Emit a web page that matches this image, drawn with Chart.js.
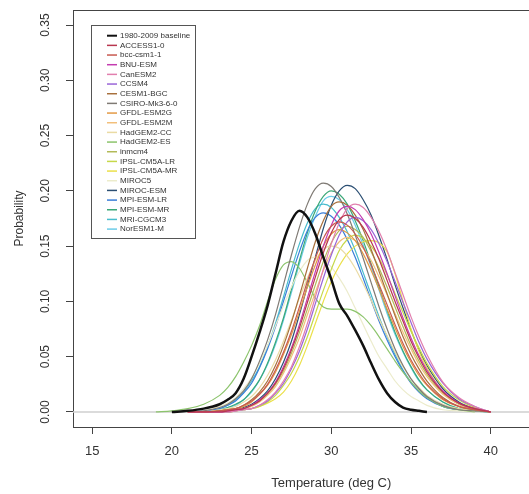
<!DOCTYPE html>
<html>
<head>
<meta charset="utf-8">
<script src="https://cdn.jsdelivr.net/npm/chart.js@4.4.1/dist/chart.umd.min.js"></script>
<style>
  html, body { margin: 0; padding: 0; background: #fff; overflow: hidden; }
  #wrap { width: 529px; height: 494px; }
</style>
</head>
<body>
<div id="wrap"><canvas id="chart" width="529" height="494"></canvas></div>
<script>
var n = null;

// temperature grid (deg C) shared by every curve
var temps = [19, 20, 21, 22, 23, 23.5, 24, 24.5, 25, 25.5, 26, 26.5, 27, 27.5, 28, 28.5, 29, 29.5,
             30, 30.5, 31, 31.5, 32, 32.5, 33, 33.5, 34, 34.5, 35, 35.5, 36, 37, 38, 39, 40, 41];
var xTicks = [15, 20, 25, 30, 35, 40];
var yTicks = [0, 0.05, 0.10, 0.15, 0.20, 0.25, 0.30, 0.35];

// probability density
var baseline = [n, 0, .001, .003, .007, .011, .017, .030, .050, .072, .096, .125, .154, .173, .182, .176, .161, .140, .120, .098, .087, .074, .060, .044, .029, .017, .009, .004, .002, .001, 0, n, n, n, n, n];
var access10 = [n, n, 0, 0, 0, .001, .002, .003, .006, .010, .017, .026, .039, .056, .076, .099, .122, .144, .162, .174, .178, .175, .167, .154, .138, .119, .100, .082, .064, .049, .036, .018, .008, .003, 0, n];
var bccCsm11 = [n, n, 0, 0, .001, .002, .003, .006, .010, .016, .025, .038, .054, .073, .095, .118, .139, .157, .168, .172, .169, .161, .149, .133, .115, .097, .079, .062, .047, .035, .025, .012, .005, .002, 0, n];
var bnuEsm = [n, n, 0, 0, 0, .001, .002, .003, .006, .011, .017, .027, .041, .058, .079, .103, .127, .150, .169, .182, .186, .183, .174, .161, .144, .125, .105, .085, .067, .051, .038, .019, .008, .003, 0, n];
var canEsm2 = [n, n, 0, 0, 0, 0, .001, .002, .003, .006, .011, .018, .028, .041, .059, .080, .104, .129, .152, .171, .184, .188, .185, .176, .163, .146, .126, .106, .086, .068, .052, .027, .013, .005, 0, n];
var ccsm4 = [n, n, 0, 0, 0, 0, .001, .002, .003, .006, .010, .017, .026, .039, .055, .075, .098, .121, .142, .160, .172, .176, .173, .165, .152, .136, .118, .099, .081, .063, .048, .026, .012, .005, 0, n];
var cesm1Bgc = [n, n, 0, 0, .001, .002, .003, .006, .011, .018, .028, .042, .060, .081, .105, .130, .154, .173, .186, .190, .187, .178, .165, .147, .127, .107, .087, .068, .052, .039, .028, .013, .005, .002, 0, n];
var csiroMk360 = [n, n, 0, .001, .004, .007, .012, .019, .030, .046, .065, .088, .115, .142, .167, .188, .202, .207, .204, .194, .179, .160, .139, .117, .095, .075, .057, .042, .030, .021, .014, .006, .002, .001, 0, n];
var gfdlEsm2g = [n, n, 0, 0, .001, .002, .003, .005, .009, .016, .024, .036, .052, .070, .091, .113, .133, .150, .161, .165, .162, .155, .143, .128, .111, .093, .076, .059, .045, .033, .024, .011, .005, .002, 0, n];
var gfdlEsm2m = [n, n, 0, 0, 0, .001, .002, .003, .005, .009, .015, .023, .035, .050, .067, .088, .108, .128, .144, .154, .158, .155, .148, .137, .122, .106, .089, .072, .057, .043, .032, .016, .007, .003, 0, n];
var hadgem2Cc = [n, n, 0, 0, .002, .003, .005, .009, .014, .022, .033, .047, .064, .083, .103, .121, .137, .147, .150, .148, .141, .130, .116, .101, .084, .069, .054, .041, .030, .022, .015, .007, .003, .001, 0, n];
var hadgem2Es = [0, .001, .003, .007, .015, .022, .032, .045, .060, .078, .100, .120, .133, .136, .130, .117, .103, .095, .093, .093, .093, .091, .086, .078, .068, .057, .046, .036, .027, .019, .013, .005, .002, 0, n, n];
var inmcm4 = [n, n, 0, 0, 0, .001, .002, .003, .006, .010, .016, .025, .037, .053, .072, .093, .115, .136, .153, .164, .168, .165, .158, .145, .130, .113, .095, .077, .060, .046, .034, .017, .007, .003, 0, n];
var ipslLr = [n, n, 0, 0, 0, 0, .001, .002, .003, .005, .009, .015, .024, .035, .050, .068, .089, .110, .129, .146, .156, .160, .157, .150, .139, .124, .107, .090, .073, .058, .044, .023, .011, .004, 0, n];
var ipslMr = [n, n, 0, 0, 0, 0, .001, .002, .003, .005, .008, .012, .018, .028, .042, .060, .080, .100, .118, .132, .143, .150, .154, .155, .153, .145, .125, .100, .075, .055, .040, .018, .007, .002, 0, n];
var miroc5 = [n, n, 0, .001, .005, .008, .013, .021, .031, .044, .060, .078, .096, .113, .127, .137, .140, .138, .131, .121, .109, .094, .079, .064, .050, .039, .028, .020, .014, .010, .006, .002, .001, 0, n, n];
var mirocEsm = [n, n, 0, 0, 0, .001, .002, .004, .007, .012, .019, .030, .045, .064, .088, .114, .140, .166, .187, .200, .205, .202, .192, .178, .159, .138, .115, .094, .074, .056, .042, .021, .009, .003, 0, n];
var mpiEsmLr = [n, n, 0, .001, .003, .006, .010, .017, .026, .040, .057, .077, .100, .123, .145, .164, .176, .180, .177, .169, .156, .140, .121, .101, .082, .065, .050, .037, .026, .018, .012, .005, .002, .001, 0, n];
var mpiEsmMr = [n, n, 0, 0, .002, .004, .007, .011, .019, .029, .044, .063, .085, .111, .137, .162, .182, .195, .200, .197, .188, .173, .155, .134, .113, .092, .072, .055, .041, .029, .020, .009, .003, .001, 0, n];
var mriCgcm3 = [n, n, 0, .001, .003, .006, .011, .018, .028, .041, .059, .080, .104, .129, .152, .171, .184, .188, .185, .176, .163, .146, .126, .106, .086, .068, .052, .038, .027, .019, .013, .005, .002, .001, 0, n];
var norEsm1m = [n, n, 0, 0, .002, .004, .006, .011, .018, .029, .043, .061, .083, .108, .134, .158, .177, .191, .195, .192, .183, .169, .151, .131, .110, .089, .070, .054, .040, .028, .020, .009, .003, .001, 0, n];

var seriesNames = ['1980-2009 baseline', 'ACCESS1-0', 'bcc-csm1-1', 'BNU-ESM', 'CanESM2', 'CCSM4',
    'CESM1-BGC', 'CSIRO-Mk3-6-0', 'GFDL-ESM2G', 'GFDL-ESM2M', 'HadGEM2-CC', 'HadGEM2-ES', 'inmcm4',
    'IPSL-CM5A-LR', 'IPSL-CM5A-MR', 'MIROC5', 'MIROC-ESM', 'MPI-ESM-LR', 'MPI-ESM-MR', 'MRI-CGCM3', 'NorESM1-M'];
var seriesData = [baseline, access10, bccCsm11, bnuEsm, canEsm2, ccsm4, cesm1Bgc, csiroMk360, gfdlEsm2g,
    gfdlEsm2m, hadgem2Cc, hadgem2Es, inmcm4, ipslLr, ipslMr, miroc5, mirocEsm, mpiEsmLr, mpiEsmMr, mriCgcm3, norEsm1m];
var seriesColors = ['#111111', '#b8374f', '#c85a50', '#c43cb0', '#e27fae', '#9a66d8', '#a8703c', '#7f7a74',
    '#e39a45', '#f2bf7a', '#eadba4', '#8cc46c', '#b2ba58', '#c6d84a', '#ebe04a', '#ececcc', '#2b4f73',
    '#3a7ed8', '#3aa878', '#48bccc', '#6ccce8'];

var FONT = '"Liberation Sans", Arial, sans-serif';

var datasets = seriesNames.map(function(name, i) {
    return {
        label: name,
        data: temps.map(function(t, j) { return {x: t, y: seriesData[i][j]}; }),
        borderColor: seriesColors[i],
        borderWidth: i === 0 ? 2.5 : 1.2,
        pointRadius: 0,
        fill: false,
        cubicInterpolationMode: 'monotone'
    };
});

// R style extras: zero line, top frame, rotated y labels, x title, boxed legend
var decorations = {
    id: 'decorations',
    beforeDatasetsDraw: function(chart) {
        var ctx = chart.ctx, a = chart.chartArea;
        var y0 = chart.scales.y.getPixelForValue(0);
        ctx.save();
        ctx.strokeStyle = '#cfcfcf';
        ctx.lineWidth = 1.5;
        ctx.beginPath(); ctx.moveTo(a.left, y0); ctx.lineTo(a.right, y0); ctx.stroke();
        ctx.restore();
    },
    afterDraw: function(chart) {
        var ctx = chart.ctx, a = chart.chartArea;
        var xs = chart.scales.x, ys = chart.scales.y;
        ctx.save();
        ctx.strokeStyle = '#444';
        ctx.lineWidth = 1;
        ctx.beginPath(); ctx.moveTo(a.left, a.top + 0.5); ctx.lineTo(a.right, a.top + 0.5); ctx.stroke();

        ctx.fillStyle = '#333';
        ctx.font = '12px ' + FONT;
        ctx.textAlign = 'center';
        ctx.textBaseline = 'middle';
        yTicks.forEach(function(v) {
            ctx.save();
            ctx.translate(46, ys.getPixelForValue(v));
            ctx.rotate(-Math.PI / 2);
            ctx.fillText(v.toFixed(2), 0, 0);
            ctx.restore();
        });

        ctx.font = '13px ' + FONT;
        ctx.fillText('Temperature (deg C)', xs.getPixelForValue(30), 483);

        // legend
        ctx.fillStyle = '#fff';
        ctx.fillRect(91, 25, 104, 213);
        ctx.strokeStyle = '#555';
        ctx.strokeRect(91.5, 25.5, 104, 213);
        ctx.font = '8px ' + FONT;
        ctx.textAlign = 'left';
        seriesNames.forEach(function(name, i) {
            var y = 35.7 + i * 9.67;
            ctx.strokeStyle = seriesColors[i];
            ctx.lineWidth = i === 0 ? 2 : 1.5;
            ctx.beginPath(); ctx.moveTo(107, y); ctx.lineTo(117, y); ctx.stroke();
            ctx.fillStyle = '#333';
            ctx.fillText(name, 120, y);
        });
        ctx.restore();
    }
};

Chart.defaults.font.family = FONT;
Chart.defaults.color = '#333';

new Chart(document.getElementById('chart'), {
    type: 'line',
    data: { datasets: datasets },
    options: {
        responsive: false,
        animation: false,
        events: [],
        layout: { padding: { top: 10, left: 0, right: 0, bottom: 0 } },
        plugins: { legend: { display: false }, tooltip: { enabled: false } },
        scales: {
            x: {
                type: 'linear',
                min: 13.8,
                max: 42.4,
                afterBuildTicks: function(s) { s.ticks = xTicks.map(function(v) { return {value: v}; }); },
                afterFit: function(s) { s.height = 67; },
                grid: { drawOnChartArea: false, drawTicks: true, tickLength: 7, color: '#444' },
                border: { display: true, color: '#444' },
                ticks: { padding: 10, maxRotation: 0, font: { size: 13 }, color: '#333' }
            },
            y: {
                type: 'linear',
                min: -0.0136,
                max: 0.3636,
                afterBuildTicks: function(s) { s.ticks = yTicks.map(function(v) { return {value: v}; }); },
                afterFit: function(s) { s.width = 73; },
                grid: { drawOnChartArea: false, drawTicks: true, tickLength: 7, color: '#444' },
                border: { display: true, color: '#444' },
                ticks: { display: false },
                title: { display: true, text: 'Probability', font: { size: 12 }, color: '#333', padding: { top: 12, bottom: 0 } }
            }
        }
    },
    plugins: [decorations]
});
</script>
</body>
</html>
